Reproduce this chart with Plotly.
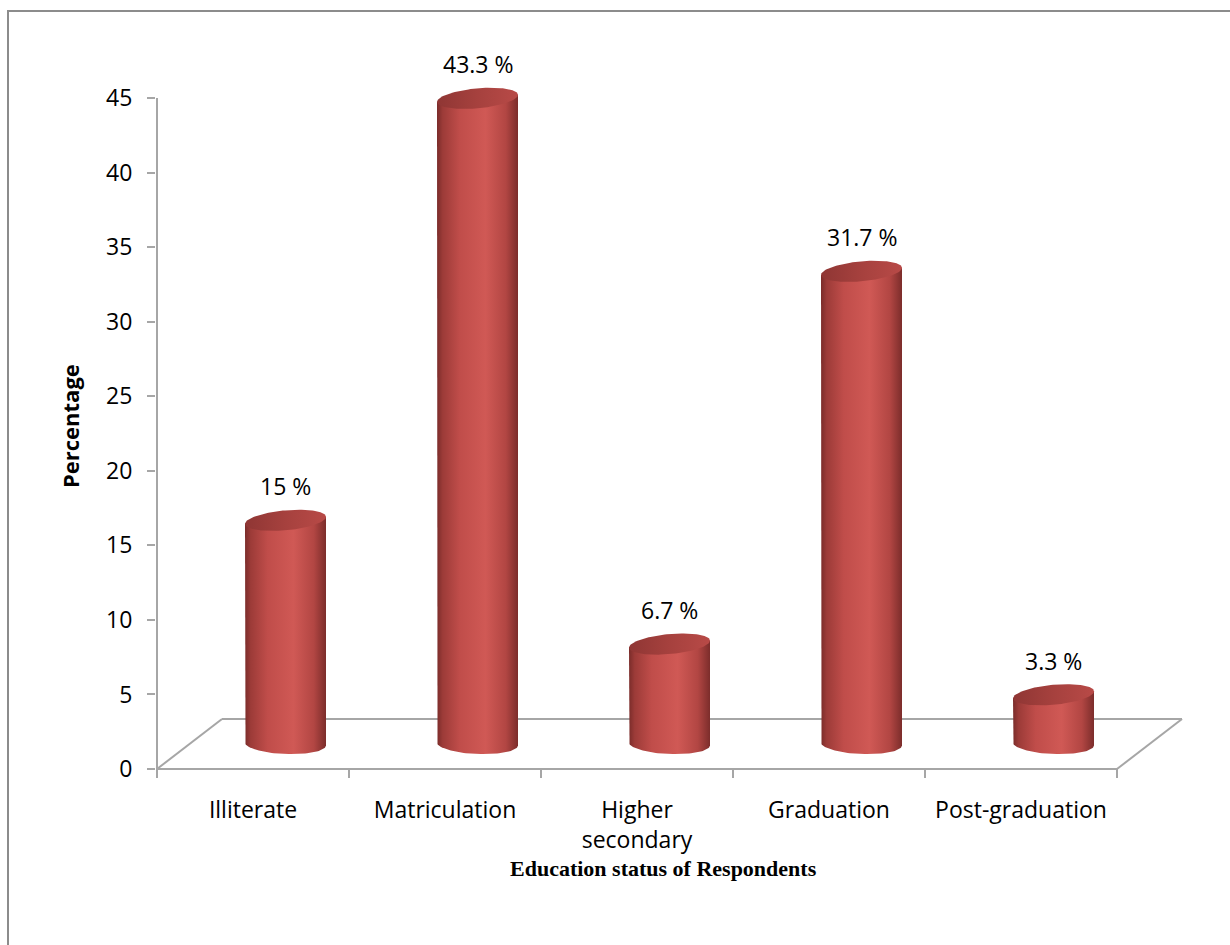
import numpy as np
import plotly.graph_objects as go

# ---- data ----
categories = ["Illiterate", "Matriculation", "Higher secondary", "Graduation", "Post-graduation"]
tick_labels = ["Illiterate", "Matriculation", "Higher<br>secondary", "Graduation", "Post-graduation"]
percent = [15, 43.3, 6.7, 31.7, 3.3]
y_tick_values = [0, 5, 10, 15, 20, 25, 30, 35, 40, 45]

# ---- page geometry (pixels) ----
W, H = 1230, 945
L, R, T, B = 156, 36, 30, 161
plot_w, plot_h = W - L - R, H - T - B
px_cat = 192.0                 # pixels per category slot
px_unit = 671.0 / 45.0         # pixels per percentage point

x_lo = -0.5 - 1.0 / px_cat
x_range = [x_lo, x_lo + plot_w / px_cat]
y_lo = -15.0 / px_unit
y_range = [y_lo, y_lo + plot_h / px_unit]

# pseudo-3D depth of the floor
depth_dx = 65.0 / px_cat
depth_dy = 50.0 / px_unit
cyl_dx = depth_dx / 2           # cylinders stand at mid depth
cyl_base = depth_dy / 2
half_w = 40.5 / px_cat
ell_b = 10.0 / px_unit
tilt_top = 3.5 / px_unit
tilt_bot = 1.5 / px_unit

GRID = "#A6A6A6"
FONT = "'Open Sans', Lato, sans-serif"
FS = 23

body_scale = [[0.0, "#7a2c2a"], [0.07, "#9c3b38"], [0.28, "#c04d4a"],
              [0.6, "#d05955"], [0.85, "#b24643"], [1.0, "#7c2d2b"]]
cap_scale = [[0.0, "#8f3634"], [0.5, "#a6413e"], [1.0, "#b84a47"]]


def px_x(p):
    return (p - L) / plot_w


def px_y(p):
    return (H - B - p) / plot_h


fig = go.Figure()

t = np.linspace(0, 2 * np.pi, 120)
t_low = np.linspace(np.pi, 2 * np.pi, 60)

for i, v in enumerate(percent):
    cx = i + cyl_dx
    y0 = cyl_base
    y1 = cyl_base + v
    # body: straight sides with the lower half of the base ellipse
    bx = [cx - half_w, cx - half_w] + list(cx + half_w * np.cos(t_low)) + [cx + half_w]
    by = ([y1 - tilt_top, y1 - tilt_top] +
          list(y0 + ell_b * np.sin(t_low) - tilt_bot * np.cos(t_low)) +
          [y1 + tilt_top])
    fig.add_trace(go.Scatter(
        x=bx, y=by, mode="lines", fill="toself",
        line=dict(width=0, color="#a94340"),
        fillgradient=dict(type="horizontal", colorscale=body_scale),
        hoverinfo="skip", showlegend=False))
    # top cap
    tx = cx + half_w * np.cos(t)
    ty = y1 + ell_b * np.sin(t) + tilt_top * np.cos(t)
    fig.add_trace(go.Scatter(
        x=tx, y=ty, mode="lines", fill="toself",
        line=dict(width=0, color="#a94340"),
        fillgradient=dict(type="horizontal", colorscale=cap_scale),
        hoverinfo="skip", showlegend=False))

shapes = []
line = dict(color=GRID, width=2)
# floor outline
shapes.append(dict(type="line", x0=-0.5, y0=0, x1=len(percent) - 0.5, y1=0, line=line, layer="below"))
shapes.append(dict(type="line", x0=-0.5 + depth_dx, y0=depth_dy,
                   x1=len(percent) - 0.5 + depth_dx, y1=depth_dy, line=line, layer="below"))
shapes.append(dict(type="line", x0=-0.5, y0=0, x1=-0.5 + depth_dx, y1=depth_dy, line=line, layer="below"))
shapes.append(dict(type="line", x0=len(percent) - 0.5, y0=0,
                   x1=len(percent) - 0.5 + depth_dx, y1=depth_dy, line=line, layer="below"))
# value axis line
shapes.append(dict(type="line", x0=-0.5, y0=0, x1=-0.5, y1=max(y_tick_values), line=line, layer="below"))
# category boundary ticks
for k in range(len(percent) + 1):
    shapes.append(dict(type="line", x0=k - 0.5, y0=0, x1=k - 0.5, y1=-9.0 / px_unit,
                       line=line, layer="below"))
# chart frame
shapes.append(dict(type="rect", xref="paper", yref="paper",
                   x0=px_x(8), y0=px_y(990), x1=px_x(1290), y1=px_y(11),
                   line=dict(color="#8c8c8c", width=2), fillcolor="rgba(0,0,0,0)"))

annotations = []
for i, v in enumerate(percent):
    annotations.append(dict(
        x=i + cyl_dx, y=cyl_base + v, text=f"{v:g} %", showarrow=False,
        yshift=34, xanchor="center", yanchor="middle",
        font=dict(family=FONT, size=FS, color="#000000")))

annotations.append(dict(
    xref="paper", yref="paper", x=px_x(663), y=px_y(868),
    xanchor="center", yanchor="middle",
    text="<b>Education status of Respondents</b>", showarrow=False,
    font=dict(family="'Liberation Serif', 'Times New Roman', serif", size=22, color="#000000")))
annotations.append(dict(
    xref="paper", yref="paper", x=px_x(70), y=px_y(426), textangle=-90,
    xanchor="center", yanchor="middle",
    text="<b>Percentage</b>", showarrow=False,
    font=dict(family=FONT, size=22, color="#000000")))

fig.update_layout(
    width=W, height=H,
    margin=dict(l=L, r=R, t=T, b=B, pad=0),
    paper_bgcolor="white", plot_bgcolor="white",
    shapes=shapes, annotations=annotations,
    xaxis=dict(range=x_range, showgrid=False, zeroline=False, showline=False,
               tickvals=list(range(len(percent))), ticktext=tick_labels,
               ticks="", ticklabelstandoff=10,
               tickfont=dict(family=FONT, size=FS, color="#000000")),
    yaxis=dict(range=y_range, showgrid=False, zeroline=False, showline=False,
               tickvals=y_tick_values, ticks="outside", ticklen=8,
               tickcolor=GRID, tickwidth=2, ticklabelstandoff=10,
               tickfont=dict(family=FONT, size=FS, color="#000000")),
)

fig.write_html("out.html")
